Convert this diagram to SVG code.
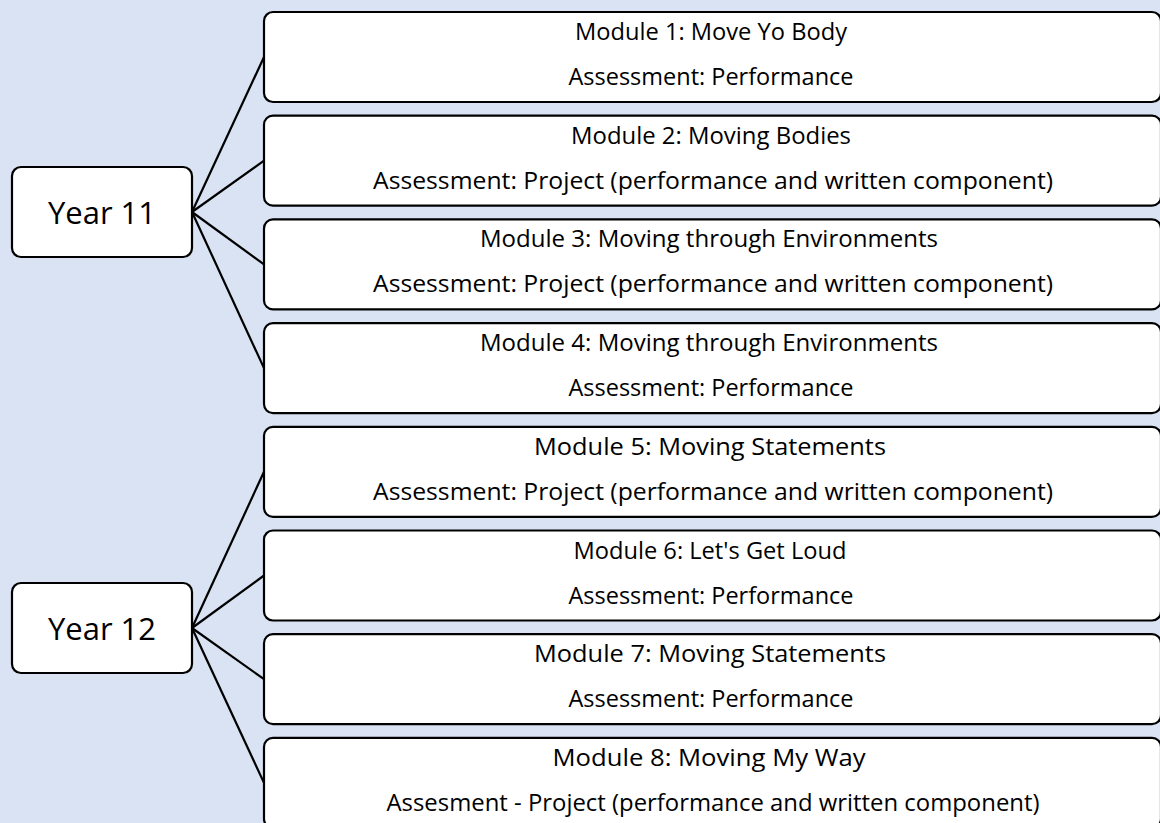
<svg xmlns="http://www.w3.org/2000/svg" width="1160" height="823" viewBox="0 0 1160 823">
<style>
.bg{fill:#dae3f3}
.box{fill:#fff;stroke:#000;stroke-width:2.2}
.t{font-family:"Open Sans","Liberation Sans",sans-serif;font-size:23px;fill:#000;text-anchor:middle}
.y{font-family:"Open Sans","Liberation Sans",sans-serif;font-size:31px;fill:#000;text-anchor:middle}
.c{stroke:#000;stroke-width:2.2;fill:none}
</style>
<rect class="bg" x="0" y="0" width="1160" height="823"/>
<g id="connectors">
<line class="c" x1="192" y1="212" x2="264" y2="57"/>
<line class="c" x1="192" y1="212" x2="264" y2="160.7"/>
<line class="c" x1="192" y1="212" x2="264" y2="264.4"/>
<line class="c" x1="192" y1="212" x2="264" y2="368.1"/>
<line class="c" x1="192" y1="628" x2="264" y2="471.8"/>
<line class="c" x1="192" y1="628" x2="264" y2="575.5"/>
<line class="c" x1="192" y1="628" x2="264" y2="679.2"/>
<line class="c" x1="192" y1="628" x2="264" y2="782.9"/>
</g>
<g id="year11">
<rect class="box" x="12" y="167" width="180" height="90" rx="9"/>
<text class="y" x="102" y="224" textLength="108" lengthAdjust="spacingAndGlyphs">Year 11</text>
</g>
<g id="year12">
<rect class="box" x="12" y="583" width="180" height="90" rx="9"/>
<text class="y" x="102" y="640" textLength="108" lengthAdjust="spacingAndGlyphs">Year 12</text>
</g>
<g id="m1">
<rect class="box" x="264" y="12" width="897" height="90" rx="9"/>
<text class="t" x="711" y="40" textLength="272" lengthAdjust="spacingAndGlyphs">Module 1: Move Yo Body</text>
<text class="t" x="711" y="85" textLength="285" lengthAdjust="spacingAndGlyphs">Assessment: Performance</text>
</g>
<g id="m2">
<rect class="box" x="264" y="115.7" width="897" height="90" rx="9"/>
<text class="t" x="711" y="143.7" textLength="280" lengthAdjust="spacingAndGlyphs">Module 2: Moving Bodies</text>
<text class="t" x="713" y="188.7" textLength="680" lengthAdjust="spacingAndGlyphs">Assessment: Project (performance and written component)</text>
</g>
<g id="m3">
<rect class="box" x="264" y="219.4" width="897" height="90" rx="9"/>
<text class="t" x="709" y="247.4" textLength="458" lengthAdjust="spacingAndGlyphs">Module 3: Moving through Environments</text>
<text class="t" x="713" y="292.4" textLength="680" lengthAdjust="spacingAndGlyphs">Assessment: Project (performance and written component)</text>
</g>
<g id="m4">
<rect class="box" x="264" y="323.1" width="897" height="90" rx="9"/>
<text class="t" x="709" y="351.1" textLength="458" lengthAdjust="spacingAndGlyphs">Module 4: Moving through Environments</text>
<text class="t" x="711" y="396.1" textLength="285" lengthAdjust="spacingAndGlyphs">Assessment: Performance</text>
</g>
<g id="m5">
<rect class="box" x="264" y="426.8" width="897" height="90" rx="9"/>
<text class="t" x="710" y="454.8" textLength="352" lengthAdjust="spacingAndGlyphs">Module 5: Moving Statements</text>
<text class="t" x="713" y="499.8" textLength="680" lengthAdjust="spacingAndGlyphs">Assessment: Project (performance and written component)</text>
</g>
<g id="m6">
<rect class="box" x="264" y="530.5" width="897" height="90" rx="9"/>
<text class="t" x="710" y="558.5" textLength="273" lengthAdjust="spacingAndGlyphs">Module 6: Let's Get Loud</text>
<text class="t" x="711" y="603.5" textLength="285" lengthAdjust="spacingAndGlyphs">Assessment: Performance</text>
</g>
<g id="m7">
<rect class="box" x="264" y="634.2" width="897" height="90" rx="9"/>
<text class="t" x="710" y="662.2" textLength="352" lengthAdjust="spacingAndGlyphs">Module 7: Moving Statements</text>
<text class="t" x="711" y="707.2" textLength="285" lengthAdjust="spacingAndGlyphs">Assessment: Performance</text>
</g>
<g id="m8">
<rect class="box" x="264" y="737.9" width="897" height="90" rx="9"/>
<text class="t" x="709" y="765.9" textLength="313" lengthAdjust="spacingAndGlyphs">Module 8: Moving My Way</text>
<text class="t" x="713" y="810.9" textLength="653" lengthAdjust="spacingAndGlyphs">Assesment - Project (performance and written component)</text>
</g>
</svg>
